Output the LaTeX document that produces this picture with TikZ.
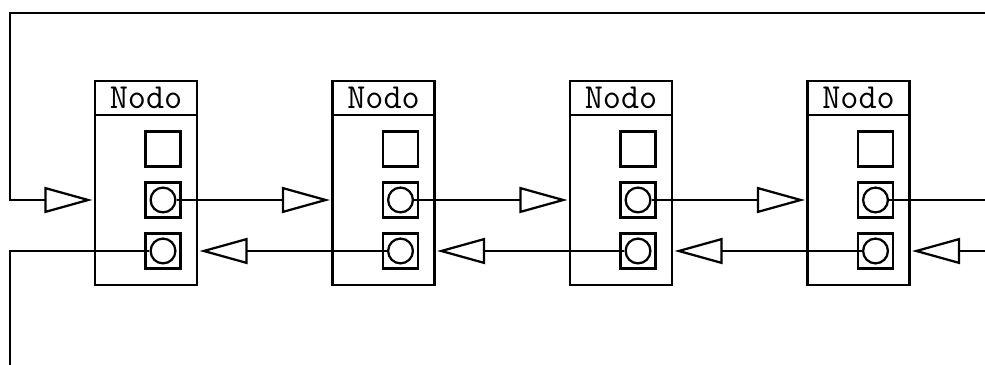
\documentclass[tikz,border=0pt]{standalone}
\usetikzlibrary{arrows.meta,calc}

\tikzset{
  nodobox/.style={draw, line width=1.6pt, minimum width=2.55cm, minimum height=5.1cm, inner sep=0pt},
  head/.style={draw, line width=1.6pt, minimum width=2.55cm, minimum height=0.85cm, inner sep=0pt,
    font=\ttfamily\fontsize{25}{25}\selectfont},
  slot/.style={draw, line width=1.6pt, minimum size=0.875cm, inner sep=0pt},
  ptr/.style={draw, circle, line width=1.6pt, minimum size=0.62cm, inner sep=0pt},
  link/.style={line width=1.6pt, shorten >=1pt, -{Triangle[open, length=1.2cm, width=0.65cm]}},
  plain/.style={line width=1.6pt},
}

\begin{document}
\begin{tikzpicture}[x=0.025cm, y=-0.025cm]
\useasboundingbox (0,0) rectangle (985,365);

% Nodes of the list
\foreach \i in {1,...,4} {
  \pgfmathsetmacro{\xc}{146+237.5*(\i-1)}
  \node[nodobox] (n\i) at (\xc,183) {};
  \node[head, anchor=north] (h\i) at (n\i.north) {Nodo};
  \node[slot] (d\i) at (\xc+17,149) {};
  \node[slot] (s\i) at (\xc+17,200) {};
  \node[slot] (p\i) at (\xc+17,251) {};
  \node[ptr] (nx\i) at (s\i) {};
  \node[ptr] (pv\i) at (p\i) {};
}

% Next and previous pointers
\foreach \i/\j in {1/2,2/3,3/4} {
  \draw[link] (nx\i.east) -- (nx\i.east -| n\j.west);
  \draw[link] (pv\j.west) -- (pv\j.west -| n\i.east);
}

% Ends of the list
\coordinate (topR) at (985,13);
\coordinate (corner) at (10,200);
\coordinate (botL) at (10,365);
\coordinate (outR) at (985,200);
\coordinate (inR) at (985,251);

\draw[link] (topR) -| (corner) -- (corner -| n1.west);
\draw[plain] (pv1.west) -| (botL);
\draw[plain] (nx4.east) -- (outR);
\draw[link] (inR) -- (inR -| n4.east);

\end{tikzpicture}
\end{document}
